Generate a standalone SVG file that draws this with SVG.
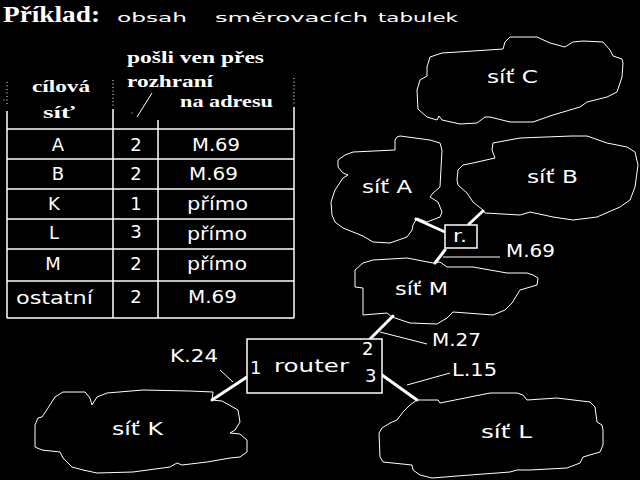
<svg xmlns="http://www.w3.org/2000/svg" width="640" height="480" viewBox="0 0 640 480">
<style>
text{fill:#fff}
.s{font-family:"DejaVu Sans","Liberation Sans",sans-serif;font-size:18px}
.t{font-family:"DejaVu Sans","Liberation Sans",sans-serif;font-size:13px}
.h{font-family:"Liberation Serif","DejaVu Serif",serif;font-size:17px;font-weight:bold}
.ttl{font-family:"Liberation Serif","DejaVu Serif",serif;font-size:23px;font-weight:bold}
.c{text-anchor:middle}
.cloud{fill:none;stroke:#fff;stroke-width:1;stroke-linejoin:round}
.box{fill:#000;stroke:#fff;stroke-width:1.5}
.grid{stroke:#fff;stroke-width:1.5;fill:none}
.dot{stroke:#fff;stroke-width:1;stroke-dasharray:1 2.5}
.link{stroke:#fff;stroke-width:3;stroke-linecap:round}
.thin{stroke:#fff;stroke-width:1}
</style>
<rect width="640" height="480" fill="#000"/>

<g id="title">
<text class="ttl" x="3" y="22" textLength="97" lengthAdjust="spacingAndGlyphs">Příklad:</text>
<text class="t" x="117" y="22" textLength="70" lengthAdjust="spacingAndGlyphs">obsah</text>
<text class="t" x="215" y="22" textLength="153" lengthAdjust="spacingAndGlyphs">směrovacích</text>
<text class="t" x="378" y="22" textLength="80" lengthAdjust="spacingAndGlyphs">tabulek</text>
</g>

<g id="table">
<line class="dot" x1="7" y1="82" x2="7" y2="106"/>
<line class="dot" x1="113" y1="80" x2="113" y2="106"/>
<line class="dot" x1="294" y1="78" x2="294" y2="106"/>
<circle cx="4" cy="100" r="0.6" fill="#fff"/>
<path class="grid" d="M7 111V318M113 109V318M158 120V318M294 107V318M7 129H294M7 159H294M7 189H294M7 219H294M7 249H294M7 281H294M7 318H294"/>
<line class="thin" x1="152" y1="93" x2="137" y2="117"/>
<circle cx="132" cy="113" r="0.6" fill="#fff"/>
<text class="h" x="127" y="63" textLength="137" lengthAdjust="spacingAndGlyphs">pošli ven přes</text>
<text class="h" x="127" y="87" textLength="86" lengthAdjust="spacingAndGlyphs">rozhraní</text>
<text class="h" x="180" y="107" textLength="93" lengthAdjust="spacingAndGlyphs">na adresu</text>
<text class="h" x="32" y="92" textLength="58" lengthAdjust="spacingAndGlyphs">cílová</text>
<text class="h" x="43" y="118" textLength="32" lengthAdjust="spacingAndGlyphs">síť</text>

<text class="s c" x="58" y="151">A</text>
<text class="s c" x="136" y="151">2</text>
<text class="s" x="192" y="151" textLength="48" lengthAdjust="spacingAndGlyphs">M.69</text>
<text class="s c" x="58" y="180">B</text>
<text class="s c" x="136" y="180">2</text>
<text class="s" x="189" y="180" textLength="49" lengthAdjust="spacingAndGlyphs">M.69</text>
<text class="s c" x="54" y="210">K</text>
<text class="s c" x="136" y="210">1</text>
<text class="s" x="187" y="210" textLength="61" lengthAdjust="spacingAndGlyphs">přímo</text>
<text class="s c" x="54" y="239">L</text>
<text class="s c" x="136" y="238">3</text>
<text class="s" x="187" y="240" textLength="60" lengthAdjust="spacingAndGlyphs">přímo</text>
<text class="s c" x="53" y="270">M</text>
<text class="s c" x="136" y="270">2</text>
<text class="s" x="187" y="270" textLength="60" lengthAdjust="spacingAndGlyphs">přímo</text>
<text class="s" x="16" y="304" textLength="77" lengthAdjust="spacingAndGlyphs">ostatní</text>
<text class="s c" x="136" y="303">2</text>
<text class="s" x="188" y="303" textLength="49" lengthAdjust="spacingAndGlyphs">M.69</text>
</g>

<g id="connectors">
<line class="link" x1="416" y1="219" x2="445" y2="232"/>
<line class="link" x1="469" y1="224" x2="483" y2="211"/>
<line class="link" x1="445" y1="250" x2="435" y2="263"/>
<line class="thin" x1="443" y1="257" x2="500" y2="257"/>
<line class="link" x1="393" y1="316" x2="370" y2="339"/>
<line class="thin" x1="380" y1="332" x2="427" y2="344"/>
<line class="link" x1="247" y1="377" x2="212" y2="400"/>
<line class="thin" x1="220" y1="370" x2="233" y2="382"/>
<line class="link" x1="382" y1="375" x2="417" y2="400"/>
<line class="thin" x1="407" y1="385" x2="450" y2="373"/>
</g>

<g id="net-C">
<path class="cloud" d="M503 49L505 42L510 37L537 37L550 43L565 47L573 42L583 41L603 42L610 50L613 56L622 59L623 63L622 77L617 92L607 97L587 102L580 107L553 115L533 122L510 122L490 117L485 117L477 123L460 124L442 120L439 116L437 120L427 117L418 109L417 90L420 80L427 76L427 67L430 57L442 53L458 52Z"/>
<text class="s" x="487" y="83" textLength="51" lengthAdjust="spacingAndGlyphs">síť C</text>
</g>

<g id="net-A">
<path class="cloud" d="M395 140L397 137L400 136L430 140L440 143L442 150L440 187L433 193L430 197L438 202L442 212L440 217L427 222L417 218L413 225L412 230L407 237L390 243L373 242L363 236L353 232L343 228L335 222L332 215L331 202L335 190L343 178L348 175L343 173L338 167L338 160L345 155L353 152L395 150Z"/>
<text class="s" x="362" y="193" textLength="50" lengthAdjust="spacingAndGlyphs">síť A</text>
</g>

<g id="net-B">
<path class="cloud" d="M493 143L520 138L572 136L587 136L607 143L627 147L635 152L638 165L635 187L630 200L620 207L597 217L573 220L553 217L530 212L520 215L485 213L483 210L473 202L467 193L458 185L457 180L458 170L463 165L473 163L495 158L492 150Z"/>
<text class="s" x="527" y="183" textLength="51" lengthAdjust="spacingAndGlyphs">síť B</text>
</g>

<g id="router-r">
<rect class="box" x="445" y="225" width="32" height="23"/>
<text class="s" x="453" y="242" textLength="14" lengthAdjust="spacingAndGlyphs">r.</text>
</g>
<text class="s" x="506" y="257" textLength="49" lengthAdjust="spacingAndGlyphs">M.69</text>

<g id="net-M">
<path class="cloud" d="M355 270L363 263L373 260L407 258L433 263L440 262L447 267L473 267L507 273L527 273L533 275L538 278L537 285L520 290L512 303L505 310L493 315L453 312L447 318L437 324L410 323L392 317L387 313L363 315L363 307L363 288L355 287Z"/>
<text class="s" x="395" y="295" textLength="53" lengthAdjust="spacingAndGlyphs">síť M</text>
</g>
<text class="s" x="432" y="346" textLength="49" lengthAdjust="spacingAndGlyphs">M.27</text>

<g id="router">
<rect class="box" x="247" y="339" width="135" height="54"/>
<text class="s" x="250" y="374">1</text>
<text class="s" x="274" y="372" textLength="75" lengthAdjust="spacingAndGlyphs">router</text>
<text class="s" x="362" y="355">2</text>
<text class="s" x="365" y="382">3</text>
</g>
<text class="s" x="170" y="362" textLength="48" lengthAdjust="spacingAndGlyphs">K.24</text>
<text class="s" x="452" y="376" textLength="45" lengthAdjust="spacingAndGlyphs">L.15</text>

<g id="net-K">
<path class="cloud" d="M63 392L85 392L90 398L92 405L97 397L107 393L143 390L190 391L213 392L212 400L222 401L238 410L240 422L235 430L230 433L240 434L247 440L247 452L240 457L230 458L207 462L182 465L177 463L170 467L133 472L97 473L83 470L72 467L63 458L60 452L42 450L35 447L35 425L38 418L42 417L48 408L55 397Z"/>
<text class="s" x="112" y="435" textLength="51" lengthAdjust="spacingAndGlyphs">síť K</text>
</g>

<g id="net-L">
<path class="cloud" d="M417 400L438 400L440 403L470 397L490 393L517 393L523 395L527 400L557 398L590 402L595 407L597 422L602 425L603 430L603 445L600 452L583 457L580 463L567 468L530 470L517 470L510 472L497 473L470 475L432 478L420 475L413 470L412 465L383 462L380 457L379 433L382 428L390 423L397 420L403 412L410 405Z"/>
<text class="s" x="481" y="438" textLength="51" lengthAdjust="spacingAndGlyphs">síť L</text>
</g>
</svg>
